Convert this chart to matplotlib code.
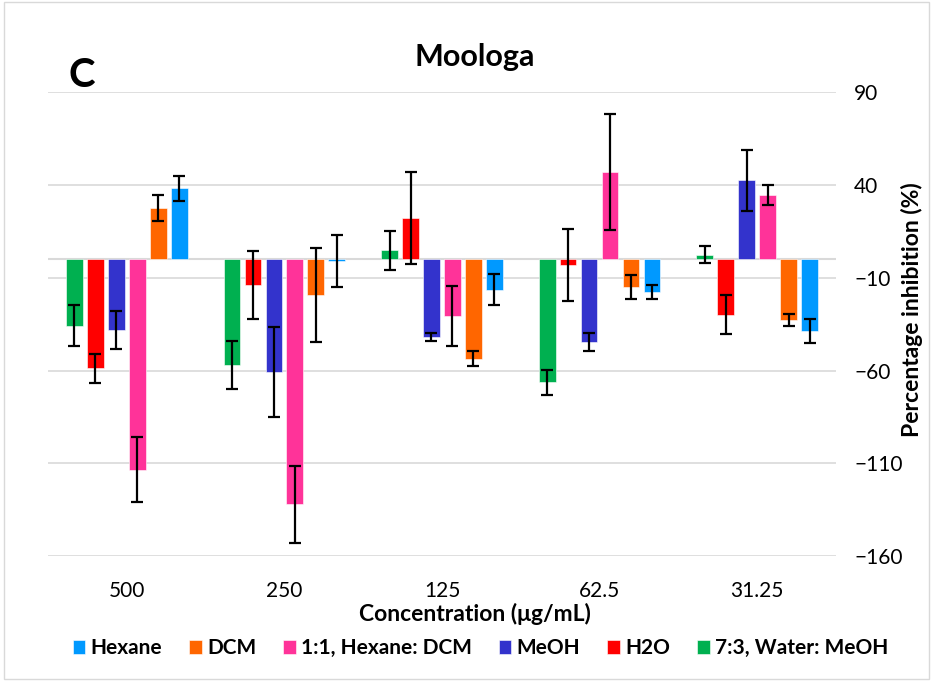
import numpy as np
import matplotlib.pyplot as plt
from matplotlib.patches import Rectangle

plt.rcParams['font.family'] = ['Lato', 'DejaVu Sans']

concentrations = ['500', '250', '125', '62.5', '31.25']

# series in the order the bars appear inside each group (left to right)
series = ['7:3, Water: MeOH', 'H2O', 'MeOH', '1:1, Hexane: DCM', 'DCM', 'Hexane']
colors = ['#00B050', '#FF0000', '#3333CC', '#FF3399', '#FF6600', '#0099FF']

water_meoh = [-35.8, -57.0, 5.0, -66.4, 2.6]
water_meoh_err = [11.1, 13.2, 10.5, 6.6, 4.6]
h2o = [-58.8, -13.8, 22.3, -3.0, -29.8]
h2o_err = [7.7, 18.2, 24.8, 19.6, 10.5]
meoh = [-38.1, -60.6, -41.9, -44.6, 42.6]
meoh_err = [10.5, 24.3, 2.4, 5.1, 16.4]
hex_dcm = [-113.4, -132.2, -30.4, 47.1, 34.7]
hex_dcm_err = [17.4, 20.7, 16.2, 31.4, 5.6]
dcm = [27.5, -19.2, -53.6, -15.0, -32.9]
dcm_err = [7.0, 25.4, 4.2, 6.6, 3.2]
hexane = [38.3, -1.0, -16.3, -17.7, -38.6]
hexane_err = [6.9, 14.0, 8.2, 3.6, 6.3]

values = [water_meoh, h2o, meoh, hex_dcm, dcm, hexane]
errors = [water_meoh_err, h2o_err, meoh_err, hex_dcm_err, dcm_err, hexane_err]

legend_order = ['Hexane', 'DCM', '1:1, Hexane: DCM', 'MeOH', 'H2O', '7:3, Water: MeOH']

fig = plt.figure(figsize=(9.33, 6.81), dpi=100)
ax = fig.add_axes([0.0514, 0.1836, 0.8446, 0.6806])

x = np.arange(len(concentrations))
step = 0.133
width = 0.106
handles = {}
for i, (name, col, vals, errs) in enumerate(zip(series, colors, values, errors)):
    pos = x + (i - 2.5) * step
    b = ax.bar(pos, vals, width, color=col, edgecolor='white', linewidth=0.4, zorder=3)
    ax.errorbar(pos, vals, yerr=errs, fmt='none', ecolor='black', elinewidth=1.6,
                capsize=4.5, capthick=1.6, zorder=4)
    handles[name] = b

ax.set_xlim(-0.5, len(concentrations) - 0.5)
ax.set_ylim(-160, 90)
ax.set_yticks(np.arange(-160, 91, 50))
ax.yaxis.tick_right()
ax.grid(axis='y', color='#D9D9D9', linewidth=1.2, zorder=0)
ax.axhline(0, color='#D9D9D9', linewidth=1.5, zorder=2)
for s in ax.spines.values():
    s.set_visible(False)
ax.set_xticks(x)
ax.set_xticklabels(concentrations)
ax.tick_params(axis='x', length=0, pad=18, labelsize=15)
ax.tick_params(axis='y', length=0, pad=13, labelsize=15)

fig.text(0.509, 0.099, 'Concentration (μg/mL)', ha='center', va='center',
         fontsize=16.5, fontweight='bold')
fig.text(0.977, 0.545, 'Percentage inhibition (%)', ha='center', va='center',
         rotation=90, fontsize=16.5, fontweight='bold')
fig.text(0.509, 0.916, 'Moologa', ha='center', va='center', fontsize=22, fontweight='bold')
fig.text(0.088, 0.889, 'C', ha='center', va='center', fontsize=29, fontweight='bold')

fig.legend([handles[n] for n in legend_order], legend_order, loc='center',
           bbox_to_anchor=(0.515, 0.048), ncol=6, frameon=False,
           prop={'weight': 'bold', 'size': 15}, handlelength=0.6, handleheight=0.6,
           handletextpad=0.25, columnspacing=1.3)

fig.patches.append(Rectangle((0.004, 0.003), 0.992, 0.994, transform=fig.transFigure,
                             fill=False, edgecolor='#D9D9D9', linewidth=1))

fig.savefig('out.png', dpi=100)
